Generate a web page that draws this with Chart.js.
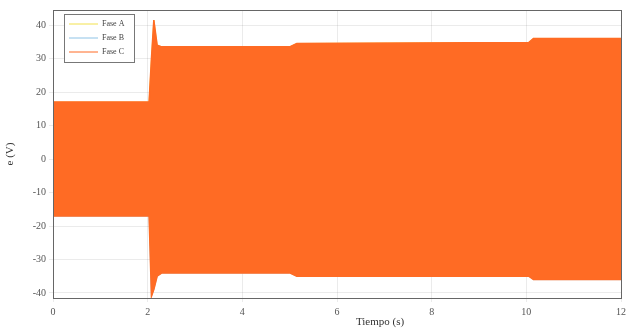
<!DOCTYPE html>
<html>
<head>
<meta charset="utf-8">
<script src="https://cdn.jsdelivr.net/npm/chart.js@4"></script>
<style>
  html, body { margin: 0; padding: 0; background: #fff; }
  #wrap { width: 632px; height: 334px; }
</style>
</head>
<body>
<div id="wrap"><canvas id="chart" width="632" height="334"></canvas></div>
<script>
// series names shown in the legend
const seriesNames = ['Fase A', 'Fase B', 'Fase C'];
const seriesColors = ['#f2e14c', '#8ec3e6', '#ff6b24'];

// envelope of the (dense) phase voltages, time in s
const envTime  = [0, 2.03, 2.08, 2.13, 2.2, 2.3, 5.0, 5.15, 10.05, 10.15, 12];
const envUpper = [17, 17, 30, 41.5, 34, 33.5, 33.5, 34.5, 34.8, 36, 36];
const envLower = [-17, -17, -41, -39, -35, -34, -34, -35, -35, -36, -36];

const xTicks = [0, 2, 4, 6, 8, 10, 12];
const yTicks = [-40, -30, -20, -10, 0, 10, 20, 30, 40];

function pts(ys) {
    return envTime.map((t, i) => ({ x: t, y: ys[i] }));
}

const serif = 'Liberation Serif';

// frame + legend + x title
const extras = {
    id: 'extras',
    afterDraw(chart) {
        const ctx = chart.ctx;
        const a = chart.chartArea;
        ctx.save();
        ctx.strokeStyle = '#666';
        ctx.lineWidth = 1;
        ctx.strokeRect(a.left + 0.5, a.top + 0.5, a.right - a.left, a.bottom - a.top);

        // legend box
        const lx = 64, ly = 14, lw = 70, lh = 48;
        ctx.fillStyle = '#fff';
        ctx.fillRect(lx, ly, lw, lh);
        ctx.strokeStyle = '#777';
        ctx.strokeRect(lx + 0.5, ly + 0.5, lw, lh);
        ctx.font = '8px ' + serif;
        ctx.textBaseline = 'middle';
        seriesNames.forEach((name, i) => {
            const y = ly + 10 + i * 14;
            ctx.strokeStyle = seriesColors[i];
            ctx.beginPath();
            ctx.moveTo(lx + 5, y);
            ctx.lineTo(lx + 34, y);
            ctx.stroke();
            ctx.fillStyle = '#444';
            ctx.fillText(name, lx + 38, y);
        });

        // x axis title
        ctx.font = '11px ' + serif;
        ctx.fillStyle = '#333';
        ctx.textAlign = 'center';
        ctx.fillText('Tiempo (s)', 380, 322);
        ctx.restore();
    }
};

new Chart(document.getElementById('chart').getContext('2d'), {
    type: 'line',
    data: {
        datasets: [
            { label: seriesNames[0], data: pts(envUpper), order: 3, borderColor: seriesColors[0], borderWidth: 1, pointRadius: 0, fill: false },
            { label: seriesNames[1], data: pts(envLower), order: 3, borderColor: seriesColors[1], borderWidth: 1, pointRadius: 0, fill: false },
            { label: seriesNames[2], data: pts(envUpper), order: 0, borderColor: seriesColors[2], backgroundColor: seriesColors[2], borderWidth: 1.5, pointRadius: 0, fill: '+1' },
            { label: '_lower', data: pts(envLower), order: 1, borderColor: seriesColors[2], borderWidth: 1.5, pointRadius: 0, fill: false }
        ]
    },
    options: {
        responsive: false,
        animation: false,
        layout: { padding: { top: 10, right: 11, left: 0, bottom: 0 } },
        plugins: {
            legend: { display: false },
            tooltip: { enabled: false }
        },
        scales: {
            x: {
                type: 'linear',
                min: 0,
                max: 12,
                afterBuildTicks: s => { s.ticks = xTicks.map(v => ({ value: v })); },
                afterFit: s => { s.height = 36; },
                ticks: { font: { family: serif, size: 10 }, color: '#555', padding: 4, maxRotation: 0 },
                grid: { color: 'rgba(0,0,0,0.08)', tickLength: 4 },
                border: { color: '#666' }
            },
            y: {
                min: -41.5,
                max: 44.5,
                afterBuildTicks: s => { s.ticks = yTicks.map(v => ({ value: v })); },
                afterFit: s => { s.width = 53; },
                ticks: { font: { family: serif, size: 10 }, color: '#555', padding: 3 },
                grid: { color: 'rgba(0,0,0,0.08)', tickLength: 4 },
                border: { color: '#666' },
                title: { display: true, text: 'e (V)', font: { family: serif, size: 11 }, color: '#333', padding: 4 }
            }
        }
    },
    plugins: [extras]
});
</script>
</body>
</html>
